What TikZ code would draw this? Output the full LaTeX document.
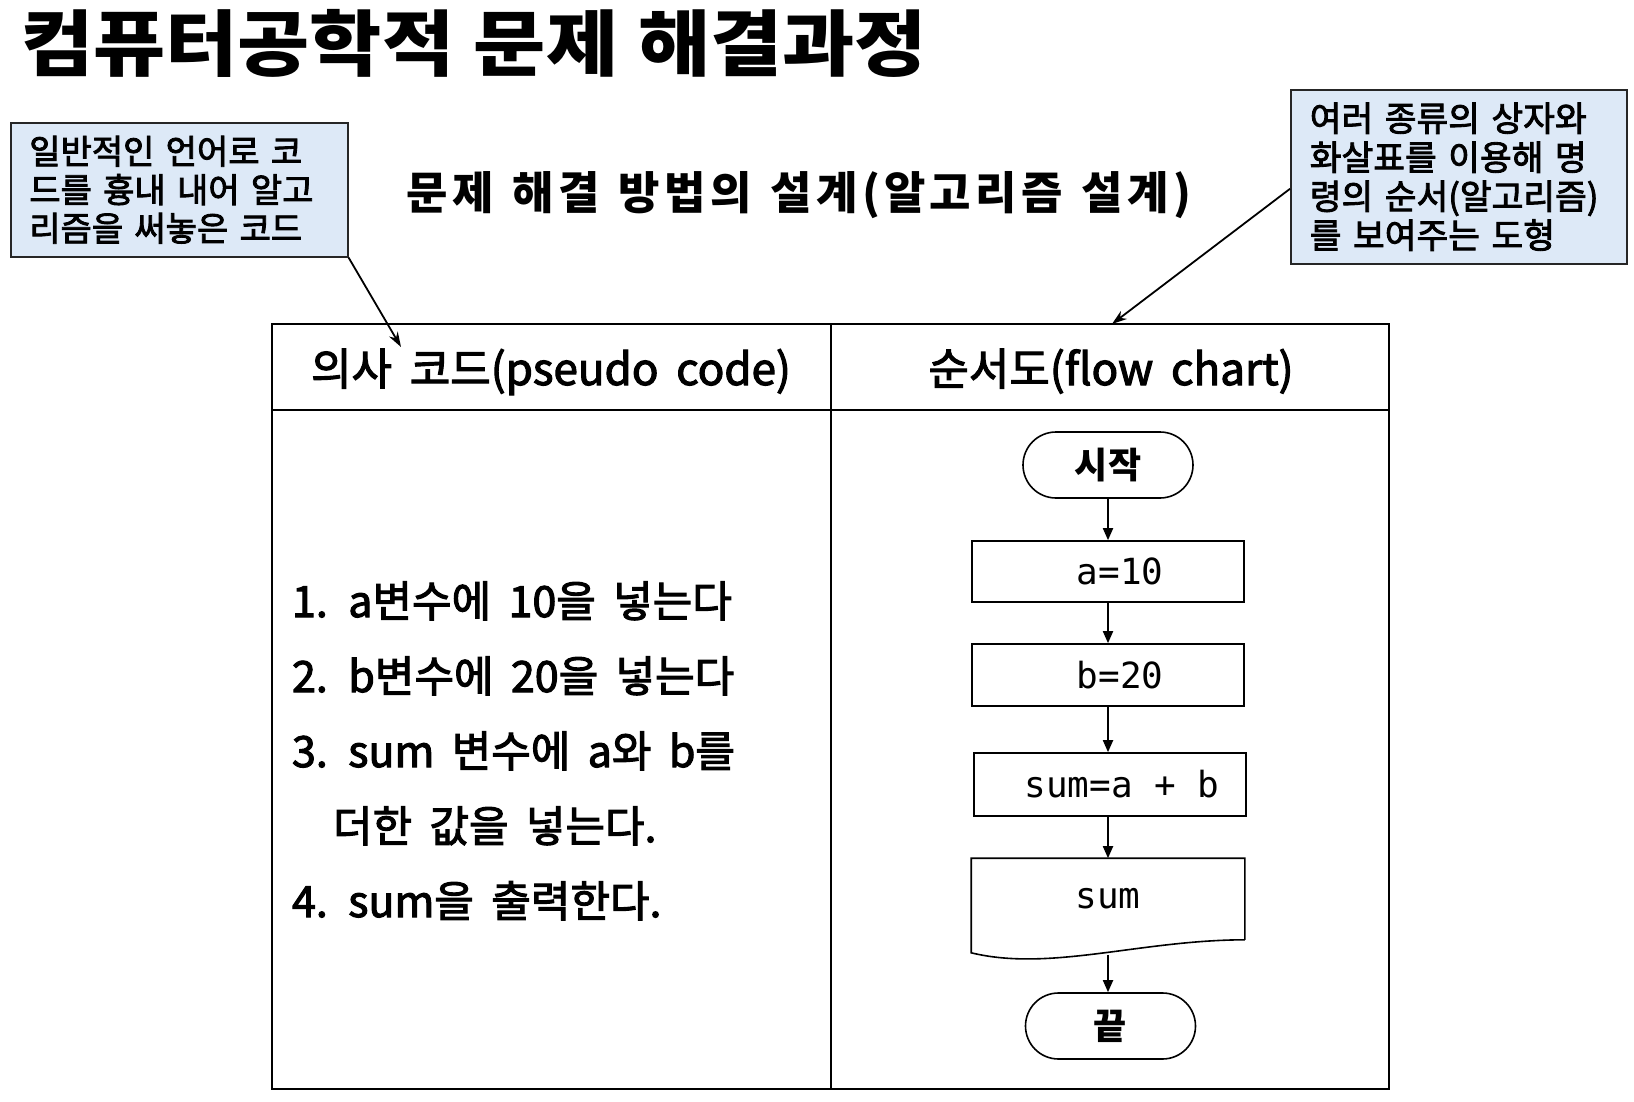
\documentclass[tikz,border=0pt]{standalone}
\usepackage{fontspec}
\usepackage{graphicx}
\setmainfont{Noto Sans CJK KR}[WordSpace=1.8]
\setmonofont{DejaVu Sans Mono}
\newfontfamily\titlefont{Noto Sans CJK KR}[WordSpace=1.1]
\newfontfamily\subfont{Noto Sans CJK KR}[WordSpace=1.3,LetterSpace=9.5]
\newfontfamily\medfont{Noto Sans CJK KR}[WordSpace=1.8,FakeBold=2.5]
\usetikzlibrary{arrows.meta}
\definecolor{callfill}{RGB}{221,233,247}
\tikzset{
  txt/.style={inner sep=0pt, outer sep=0pt},
  callout/.style={draw=black!85, fill=callfill, line width=1.6pt, anchor=north west,
    inner sep=0pt, align=left},
  pointer/.style={line width=1.8pt, -{Stealth[length=15pt,width=10pt]}},
  frame/.style={line width=2pt},
  term/.style={draw, line width=1.6pt, rounded corners=33pt, minimum width=170pt,
    minimum height=66pt, inner sep=0pt, font=\fontsize{36}{40}\selectfont\bfseries},
  proc/.style={draw, line width=1.6pt, minimum width=272pt, inner sep=0pt,
    font=\fontsize{36}{40}\selectfont\ttfamily},
  flow/.style={line width=1.8pt, -{Triangle[length=12pt,width=10pt]}},
  code/.style={txt, anchor=base west, font=\medfont\fontsize{43}{48}\selectfont},
  head/.style={txt, anchor=base, font=\medfont\fontsize{44}{48}\selectfont}
}
\begin{document}
\begin{tikzpicture}[x=1pt,y=-1pt]
\fill[white] (0,0) rectangle (1634,1102);
\useasboundingbox (0,0) rectangle (1634,1102);

% title
\node[txt, anchor=base west, font=\titlefont\fontsize{72}{80}\selectfont\bfseries] (title) at (21,71)
  {\scalebox{1.09}[1]{컴퓨터공학적 문제 해결과정}};

% subtitle
\node[txt, anchor=base, font=\subfont\fontsize{45}{50}\selectfont\bfseries] (sub) at (799,210)
  {문제 해결 방법의 설계(알고리즘 설계)};

% callouts
\node[callout, minimum width=337pt, minimum height=134pt, text width=300pt,
  font=\medfont\fontsize{34}{38.5}\selectfont] (lc) at (10,122)
  {일반적인 언어로 코\\드를 흉내 내어 알고\\리즘을 써놓은 코드};
\node[callout, minimum width=336pt, minimum height=174pt, text width=298pt,
  font=\medfont\fontsize{34.5}{39}\selectfont] (rc) at (1290,89)
  {여러 종류의 상자와\\화살표를 이용해 명\\령의 순서(알고리즘)\\를 보여주는 도형};

% table
\draw[frame] (272,324) rectangle (1389,1089);
\draw[frame] (831,324) -- (831,1089);
\draw[line width=2.6pt] (272,410) -- (1389,410);
\node[head] (h1) at (551,385) {의사 코드(pseudo code)};
\node[head] (h2) at (1111,385) {순서도(flow chart)};

% pointers
\coordinate (lct) at (401,347);
\coordinate (rct) at (1112,324);
\draw[pointer] (lc.south east) -- (lct);
\draw[pointer] ([yshift=-12pt]rc.west) -- (rct);

% pseudo code
\node[code] (c1) at (292,617) {1. a변수에 10을 넣는다};
\node[code] (c2) at (292,692) {2. b변수에 20을 넣는다};
\node[code] (c3) at (292,767) {3. sum 변수에 a와 b를};
\node[code] (c4) at (333,842) {더한 값을 넣는다.};
\node[code] (c5) at (292,917) {4. sum을 출력한다.};

% flow chart
\node[term] (start) at (1108,465) {시작};
\node[proc, minimum height=61pt] (p1) at (1108,571.5) {\hspace*{24pt}a=10};
\node[proc, minimum height=62pt] (p2) at (1108,675) {\hspace*{24pt}b=20};
\node[proc, minimum height=63pt] (p3) at (1110,784.5) {\hspace*{24pt}sum=a + b};
\node[proc, draw=none, minimum height=80pt] (doc) at (1108,899) {sum};
\draw[line width=1.6pt] (doc.south east) -- (doc.north east) -- (doc.north west)
  -- ([yshift=-13pt]doc.south west)
  .. controls (1050,972) and (1140,940) .. (doc.south east);
\node[term] (end) at (1110.5,1026) {끝};
\coordinate (docb) at ([yshift=-15pt]doc.south);

\draw[flow] (start) -- (p1);
\draw[flow] (p1) -- (p2);
\draw[flow] (p2.south) -- (p2.south |- p3.north);
\draw[flow] (p3.south -| doc.north) -- (doc.north);
\draw[flow] (docb) -- (docb |- end.north);
\end{tikzpicture}
\end{document}
